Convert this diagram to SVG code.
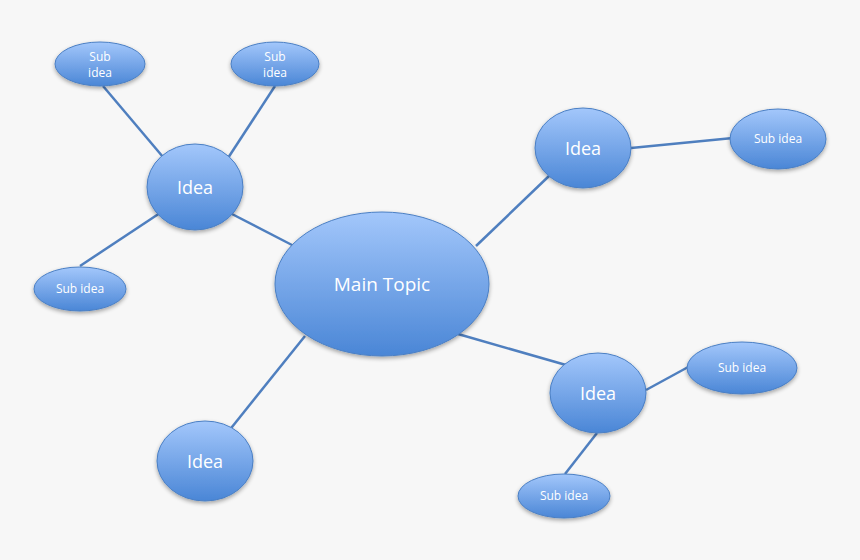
<svg xmlns="http://www.w3.org/2000/svg" width="860" height="560" viewBox="0 0 860 560">
<defs>
<linearGradient id="g" x1="0" y1="0" x2="0" y2="1">
<stop offset="0" stop-color="#a3c7fb"/>
<stop offset="1" stop-color="#4a86d6"/>
</linearGradient>
<filter id="sh" x="-20%" y="-20%" width="140%" height="150%">
<feGaussianBlur in="SourceAlpha" stdDeviation="2"/>
<feOffset dx="0" dy="2" result="b"/>
<feComponentTransfer><feFuncA type="linear" slope="0.35"/></feComponentTransfer>
<feMerge><feMergeNode/><feMergeNode in="SourceGraphic"/></feMerge>
</filter>
</defs>
<style>
.n{fill:url(#g);stroke:#4a7fc4;stroke-width:1;filter:url(#sh)}
.c line{stroke:#4f7fbf;stroke-width:2.5}
text{font-family:"Open Sans","Liberation Sans",sans-serif;fill:#ffffff;text-anchor:middle}
.m{font-size:19px}
.i{font-size:18px}
.s{font-size:12px}
</style>
<rect width="860" height="560" fill="#f7f7f7"/>
<g class="c" id="connectors">
<line x1="292" y1="245" x2="230" y2="213"/>
<line x1="476" y1="246" x2="549" y2="176"/>
<line x1="458" y1="334" x2="566" y2="365"/>
<line x1="305" y1="336" x2="228" y2="432"/>
<line x1="103" y1="86" x2="163" y2="157"/>
<line x1="275" y1="86" x2="228" y2="158"/>
<line x1="160" y1="213" x2="80" y2="266"/>
<line x1="631" y1="148" x2="733" y2="138"/>
<line x1="646" y1="390" x2="690" y2="366"/>
<line x1="597" y1="433" x2="565" y2="474"/>
</g>
<g id="main"><ellipse class="n" cx="382" cy="284" rx="107" ry="72"/><text class="m" x="382" y="291">Main Topic</text></g>
<g id="idea1"><ellipse class="n" cx="195" cy="187" rx="48" ry="43"/><text class="i" x="195" y="194">Idea</text></g>
<g id="idea2"><ellipse class="n" cx="583" cy="148" rx="48" ry="40"/><text class="i" x="583" y="155">Idea</text></g>
<g id="idea3"><ellipse class="n" cx="598" cy="393" rx="48" ry="40"/><text class="i" x="598" y="400">Idea</text></g>
<g id="idea4"><ellipse class="n" cx="205" cy="461" rx="48" ry="40"/><text class="i" x="205" y="468">Idea</text></g>
<g id="sub1"><ellipse class="n" cx="100" cy="64" rx="45" ry="22"/><text class="s" x="100" y="61">Sub</text><text class="s" x="100" y="77">idea</text></g>
<g id="sub2"><ellipse class="n" cx="275" cy="64" rx="44" ry="22"/><text class="s" x="275" y="61">Sub</text><text class="s" x="275" y="77">idea</text></g>
<g id="sub3"><ellipse class="n" cx="80" cy="289" rx="46" ry="22"/><text class="s" x="80" y="293">Sub idea</text></g>
<g id="sub4"><ellipse class="n" cx="778" cy="139" rx="48" ry="30"/><text class="s" x="778" y="143">Sub idea</text></g>
<g id="sub5"><ellipse class="n" cx="742" cy="368" rx="55" ry="26"/><text class="s" x="742" y="372">Sub idea</text></g>
<g id="sub6"><ellipse class="n" cx="564" cy="496" rx="46" ry="22"/><text class="s" x="564" y="500">Sub idea</text></g>
</svg>
